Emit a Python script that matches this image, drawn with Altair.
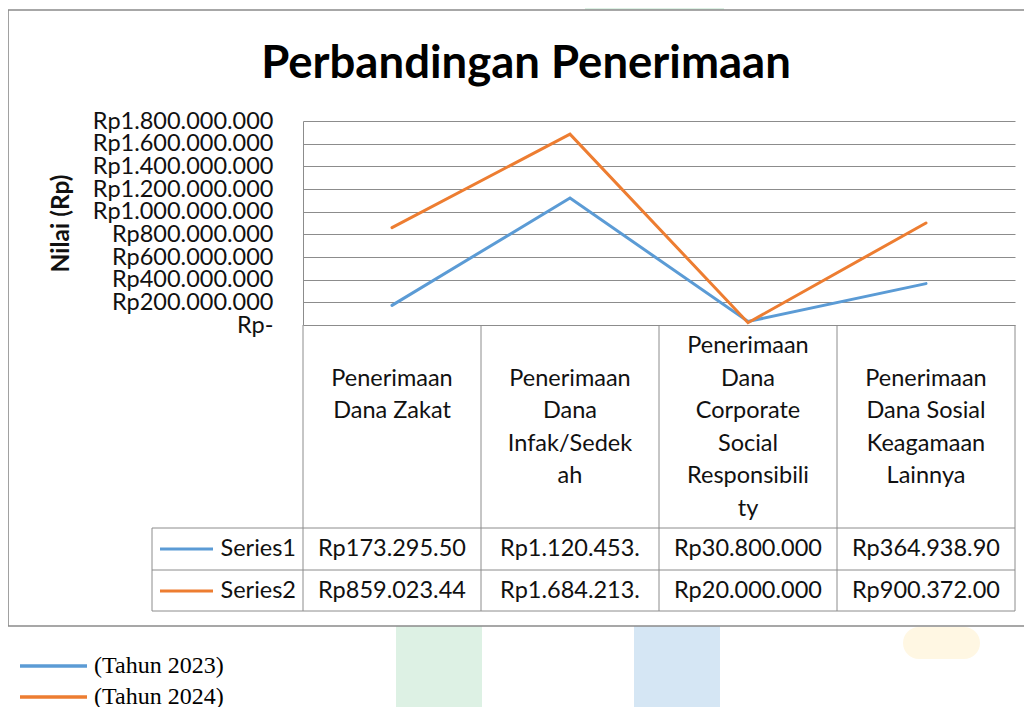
import altair as alt
import pandas as pd

# ---------------- data ----------------
categories = [
    "Penerimaan Dana Zakat",
    "Penerimaan Dana Infak/Sedekah",
    "Penerimaan Dana Corporate Social Responsibility",
    "Penerimaan Dana Sosial Keagamaan Lainnya",
]
category_lines = [
    ["Penerimaan", "Dana Zakat"],
    ["Penerimaan", "Dana", "Infak/Sedek", "ah"],
    ["Penerimaan", "Dana", "Corporate", "Social", "Responsibili", "ty"],
    ["Penerimaan", "Dana Sosial", "Keagamaan", "Lainnya"],
]
series_names = ["Series1", "Series2"]
legend_labels = ["(Tahun 2023)", "(Tahun 2024)"]
series1_values = [173295500, 1120453000, 30800000, 364938900]
series2_values = [859023440, 1684213000, 20000000, 900372000]
series1_text = ["Rp173.295.50", "Rp1.120.453.", "Rp30.800.000", "Rp364.938.90"]
series2_text = ["Rp859.023.44", "Rp1.684.213.", "Rp20.000.000", "Rp900.372.00"]
series_colors = ["#5B9BD5", "#ED7D31"]
y_ticks = [0, 200000000, 400000000, 600000000, 800000000, 1000000000,
           1200000000, 1400000000, 1600000000, 1800000000]
y_tick_labels = ["Rp-", "Rp200.000.000", "Rp400.000.000", "Rp600.000.000",
                 "Rp800.000.000", "Rp1.000.000.000", "Rp1.200.000.000",
                 "Rp1.400.000.000", "Rp1.600.000.000", "Rp1.800.000.000"]
title_text = "Perbandingan Penerimaan"
y_title = "Nilai (Rp)"

# ---------------- layout constants ----------------
W, H = 712, 204
PAD_L, PAD_T = 295, 113
FONT = "Lato"
FS = 23.5
GRID = "#8c8c8c"
TXT = "#111111"

n = len(categories)
rows = []
for s_name, vals, texts in zip(series_names, [series1_values, series2_values], [series1_text, series2_text]):
    for i, (c, v, t) in enumerate(zip(categories, vals, texts)):
        rows.append({"cat": c, "pos": i + 0.5, "value": v, "series": s_name, "label": t})
df = pd.DataFrame(rows)

# vertically centre every wrapped header block inside the header row
max_lines = max(len(l) for l in category_lines)
padded = []
for l in category_lines:
    top = (max_lines - len(l)) // 2
    padded.append([""] * top + l + [""] * (max_lines - len(l) - top))
cat_df = pd.DataFrame({"cat": categories, "pos": [i + 0.5 for i in range(n)], "lines": padded})
bound_df = pd.DataFrame({"b": list(range(n + 1))})

x_scale = alt.Scale(domain=[0, n], nice=False, zero=False)
y_scale = alt.Scale(domain=[0, 1800000000], nice=False)

expr = "''"
for v, lab in reversed(list(zip(y_ticks, y_tick_labels))):
    expr = f"datum.value == {v} ? '{lab}' : ({expr})"

base = alt.Chart(df)
blank = alt.Chart(pd.DataFrame({"k": [0]}))

# watermark decorations
wm = []
for (x0, x1, y0, y1, col, r) in [
    (93, 179, 505, 590, "#ddf1e4", 0),
    (331, 417, 505, 590, "#d5e6f4", 0),
    (600, 677, 506, 538, "#fff7e3", 18),
    (282, 421, -125, -111, "#ddf1e4", 0),
]:
    wm.append(blank.mark_rect(color=col, cornerRadius=r).encode(
        x=alt.value(x0), x2=alt.value(x1), y=alt.value(y0), y2=alt.value(y1)))

frame = blank.mark_rect(fillOpacity=0, stroke="#8a8a8a", strokeWidth=1.6).encode(
    x=alt.value(-295), x2=alt.value(740), y=alt.value(-111), y2=alt.value(505))

lines = base.mark_line(strokeWidth=3, strokeCap="round", strokeJoin="miter").encode(
    x=alt.X("pos:Q", scale=x_scale, axis=None),
    y=alt.Y("value:Q", scale=y_scale,
            axis=alt.Axis(values=y_ticks, labelExpr=expr, labelFont=FONT, labelFontSize=FS,
                          labelColor=TXT, labelPadding=30, ticks=False, domainColor=GRID,
                          gridColor=GRID, gridWidth=1, labelOverlap=False, labelBound=False,
                          labelFlush=False, labelLimit=400, title=y_title, titleFont=FONT,
                          titleFontSize=24.5, titleFontWeight="bold", titleColor=TXT, titleX=-242,
                          titleY=102, titleAlign="center", titleBaseline="middle")),
    color=alt.Color("series:N", scale=alt.Scale(domain=series_names, range=series_colors), legend=None),
    detail="series:N",
)

vlines = alt.Chart(bound_df).mark_rule(color=GRID, strokeWidth=1).encode(
    x=alt.X("b:Q", scale=x_scale, axis=None), y=alt.value(H), y2=alt.value(490))

hl = []
for yy in [407, 449, 490]:
    hl.append(blank.mark_rule(color=GRID, strokeWidth=1).encode(
        x=alt.value(-151), x2=alt.value(W), y=alt.value(yy)))
hl.append(blank.mark_rule(color=GRID, strokeWidth=1).encode(
    x=alt.value(-151), y=alt.value(407), y2=alt.value(490)))

header = alt.Chart(cat_df).mark_text(font=FONT, fontSize=FS, color=TXT, lineHeight=32.5,
                                     align="center", baseline="middle").encode(
    x=alt.X("pos:Q", scale=x_scale, axis=None), y=alt.value(225), text=alt.Text("lines:N"))

cells = []
leg = []
for k, (s_name, col, ty, ly, ll) in enumerate(zip(series_names, series_colors, [428, 470], [545, 576], legend_labels)):
    cells.append(base.transform_filter(alt.datum.series == s_name).mark_text(
        font=FONT, fontSize=FS, color=TXT, align="center", baseline="middle").encode(
        x=alt.X("pos:Q", scale=x_scale, axis=None), y=alt.value(ty), text="label:N"))
    leg.append(blank.mark_rule(color=col, strokeWidth=3).encode(
        x=alt.value(-143), x2=alt.value(-90), y=alt.value(ty)))
    leg.append(blank.mark_text(text=s_name, font=FONT, fontSize=FS, color=TXT, align="right",
                               baseline="middle").encode(x=alt.value(-7), y=alt.value(ty)))
    leg.append(blank.mark_rule(color=col, strokeWidth=3.5).encode(
        x=alt.value(-283), x2=alt.value(-216), y=alt.value(ly)))
    leg.append(blank.mark_text(text=ll, font="Liberation Serif", fontSize=24, color="#000000",
                               align="left", baseline="middle").encode(x=alt.value(-209), y=alt.value(ly)))

title = blank.mark_text(text=title_text, font=FONT, fontSize=45.5, fontWeight="bold", color="#000000",
                        align="center", baseline="alphabetic").encode(x=alt.value(223), y=alt.value(-43))

chart = alt.layer(*wm, frame, vlines, *hl, lines, header, *cells, *leg, title).properties(
    width=W, height=H,
    autosize=alt.AutoSizeParams(type="none"),
    padding={"left": PAD_L, "top": PAD_T, "right": 9, "bottom": 382},
    background="white",
).configure_view(stroke=None)

chart.save("out.html", embed_options={"renderer": "svg", "actions": False})
